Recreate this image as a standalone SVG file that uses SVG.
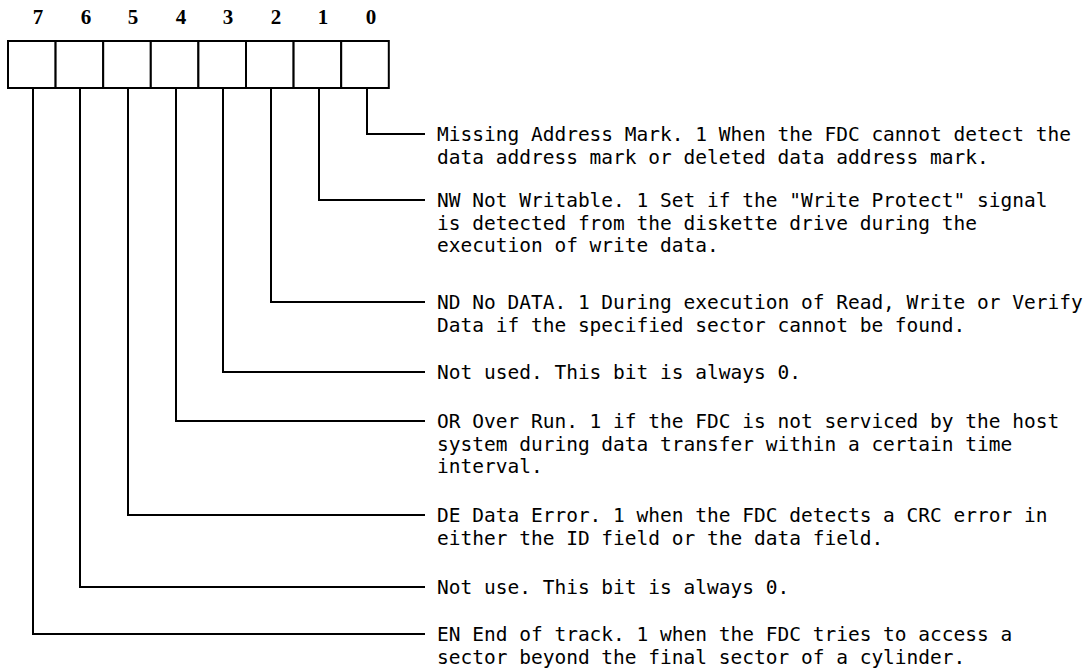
<svg xmlns="http://www.w3.org/2000/svg" width="1092" height="670" viewBox="0 0 1092 670">
<style>
.bitno{font-family:"Liberation Serif","Times New Roman",serif;font-weight:bold;font-size:21px;fill:#000;text-anchor:middle}
.desc{font-family:"DejaVu Sans Mono","Liberation Mono",monospace;font-size:19.5px;fill:#000}
.cell{fill:#fff;stroke:#000;stroke-width:2}
.conn{fill:none;stroke:#000;stroke-width:2}
</style>
<rect width="1092" height="670" fill="#fff"/>
<g id="register">
<rect class="cell" x="8" y="41" width="47.6" height="47"/>
<rect class="cell" x="55.6" y="41" width="47.6" height="47"/>
<rect class="cell" x="103.2" y="41" width="47.6" height="47"/>
<rect class="cell" x="150.8" y="41" width="47.6" height="47"/>
<rect class="cell" x="198.4" y="41" width="47.6" height="47"/>
<rect class="cell" x="246" y="41" width="47.6" height="47"/>
<rect class="cell" x="293.6" y="41" width="47.6" height="47"/>
<rect class="cell" x="341.2" y="41" width="47.6" height="47"/>
<text class="bitno" x="38" y="24">7</text>
<text class="bitno" x="86" y="24">6</text>
<text class="bitno" x="133" y="24">5</text>
<text class="bitno" x="181" y="24">4</text>
<text class="bitno" x="228" y="24">3</text>
<text class="bitno" x="276" y="24">2</text>
<text class="bitno" x="323" y="24">1</text>
<text class="bitno" x="371" y="24">0</text>
</g>
<g id="connectors">
<path class="conn" d="M367 88 V134 H425"/>
<path class="conn" d="M319 88 V200 H425"/>
<path class="conn" d="M271 88 V302 H425"/>
<path class="conn" d="M223 88 V372 H425"/>
<path class="conn" d="M176 88 V421 H425"/>
<path class="conn" d="M128 88 V515 H425"/>
<path class="conn" d="M80 88 V587 H425"/>
<path class="conn" d="M33 88 V634 H425"/>
</g>
<g id="bit0">
<text class="desc" x="437" y="141">Missing Address Mark. 1 When the FDC cannot detect the</text>
<text class="desc" x="437" y="163.5">data address mark or deleted data address mark.</text>
</g>
<g id="bit1">
<text class="desc" x="437" y="207">NW Not Writable. 1 Set if the "Write Protect" signal</text>
<text class="desc" x="437" y="229.5">is detected from the diskette drive during the</text>
<text class="desc" x="437" y="252">execution of write data.</text>
</g>
<g id="bit2">
<text class="desc" x="437" y="309">ND No DATA. 1 During execution of Read, Write or Verify</text>
<text class="desc" x="437" y="331.5">Data if the specified sector cannot be found.</text>
</g>
<g id="bit3">
<text class="desc" x="437" y="379">Not used. This bit is always 0.</text>
</g>
<g id="bit4">
<text class="desc" x="437" y="428">OR Over Run. 1 if the FDC is not serviced by the host</text>
<text class="desc" x="437" y="450.5">system during data transfer within a certain time</text>
<text class="desc" x="437" y="473">interval.</text>
</g>
<g id="bit5">
<text class="desc" x="437" y="522">DE Data Error. 1 when the FDC detects a CRC error in</text>
<text class="desc" x="437" y="544.5">either the ID field or the data field.</text>
</g>
<g id="bit6">
<text class="desc" x="437" y="594">Not use. This bit is always 0.</text>
</g>
<g id="bit7">
<text class="desc" x="437" y="641">EN End of track. 1 when the FDC tries to access a</text>
<text class="desc" x="437" y="663.5">sector beyond the final sector of a cylinder.</text>
</g>
</svg>
